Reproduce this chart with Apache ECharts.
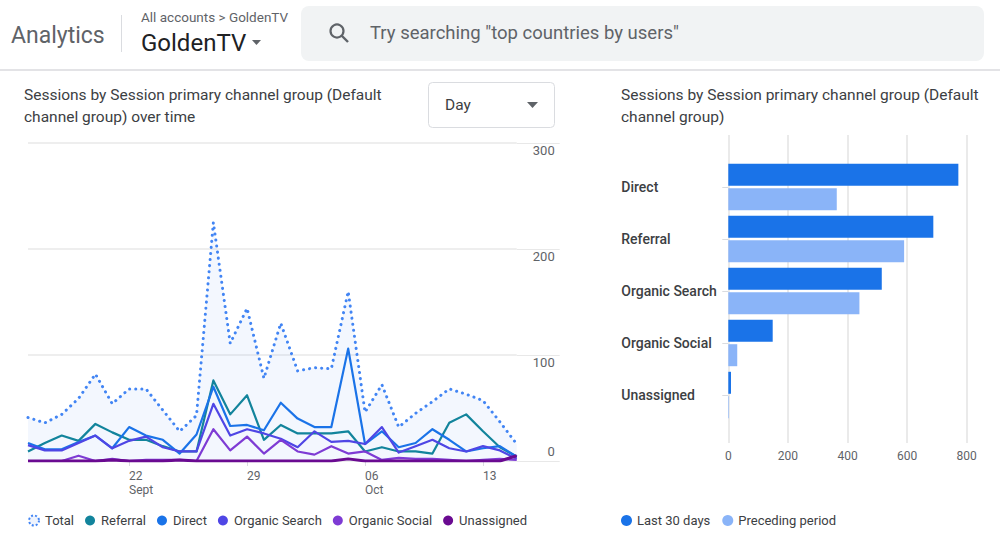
<!DOCTYPE html>
<html>
<head>
<meta charset="utf-8">
<script src="https://cdn.jsdelivr.net/npm/echarts@6/dist/echarts.min.js"></script>
<style>
html,body{margin:0;padding:0;background:#fff;}
#chart{width:1000px;height:550px;}
</style>
</head>
<body>
<div id="chart"></div>
<script>
// ---- Data ----
const days = ['Sep 16','Sep 17','Sep 18','Sep 19','Sep 20','Sep 21','Sep 22','Sep 23','Sep 24','Sep 25',
  'Sep 26','Sep 27','Sep 28','Sep 29','Sep 30','Oct 1','Oct 2','Oct 3','Oct 4','Oct 5',
  'Oct 6','Oct 7','Oct 8','Oct 9','Oct 10','Oct 11','Oct 12','Oct 13','Oct 14','Oct 15'];
const tickLabels = {'Sep 22':'22\nSept','Sep 29':'29','Oct 6':'06\nOct','Oct 13':'13'};
const total      = [41, 36, 44, 59, 82, 54, 68, 68, 48, 28, 43, 225, 111, 144, 78, 130, 85, 88, 87, 160, 46, 72, 32, 45, 56, 68, 63, 57, 37, 16];
const referral   = [9, 17, 24, 19, 35, 27, 20, 20, 14, 9, 9, 76, 44, 62, 20, 34, 26, 26, 26, 28, 9, 13, 9, 9, 7, 36, 44, 28, 13, 4];
const direct     = [17, 11, 11, 18, 24, 12, 32, 24, 20, 7, 25, 70, 33, 34, 29, 55, 40, 32, 32, 106, 16, 28, 13, 17, 30, 20, 9, 12, 14, 4];
const orgSearch  = [15, 10, 10, 17, 24, 12, 19, 23, 13, 9, 9, 54, 24, 30, 26, 21, 13, 28, 18, 19, 16, 32, 8, 14, 20, 12, 9, 14, 10, 2];
const orgSocial  = [0, 0, 0, 5, 0, 2, 0, 1, 1, 1, 0, 30, 10, 23, 7, 20, 9, 6, 14, 7, 9, 1, 3, 2, 2, 1, 0, 1, 2, 1];
const unassigned = [0, 0, 0, 0, 0, 1, 0, 0, 0, 1, 0, 0, 0, 0, 0, 0, 0, 0, 0, 2, 0, 0, 0, 0, 0, 0, 0, 0, 0, 5];

const channels   = ['Direct', 'Referral', 'Organic Search', 'Organic Social', 'Unassigned'];
const last30     = [772, 688, 515, 149, 9];
const preceding  = [364, 590, 440, 30, 2];

// ---- Chart ----
const FONT = 'Roboto, "Noto Sans", Arial, sans-serif';
const GRID = '#e8e8e8';
const LBL = '#5f6368';
const chart = echarts.init(document.getElementById('chart'), null, {renderer: 'svg'});

function lineSeries(name, data, color, extra) {
  return Object.assign({
    name: name, type: 'line', data: data, xAxisIndex: 0, yAxisIndex: 0,
    showSymbol: false, symbol: 'none',
    lineStyle: {color: color, width: 2.2, join: 'round'},
    itemStyle: {color: color},
    emphasis: {disabled: true}
  }, extra || {});
}

const option = {
  animation: false,
  textStyle: {fontFamily: FONT},
  grid: [
    {left: 28, top: 143, width: 488.7, height: 318},
    {left: 728.3, top: 135, width: 238.4, height: 308},
    {left: 728.3, top: 161, width: 238.4, height: 260}
  ],
  xAxis: [
    {
      gridIndex: 0, type: 'category', data: days, boundaryGap: false,
      axisLine: {show: false},
      axisTick: {show: true, length: 5, lineStyle: {color: '#dadce0'},
        interval: function (i, v) { return tickLabels[v] !== undefined; }},
      axisLabel: {
        interval: function (i, v) { return tickLabels[v] !== undefined; },
        formatter: function (v) { return tickLabels[v] || ''; },
        align: 'left', margin: 8, color: LBL, fontSize: 12, lineHeight: 14, fontFamily: FONT
      },
      splitLine: {show: false}
    },
    {
      gridIndex: 1, type: 'value', min: 0, max: 800, interval: 200,
      axisLine: {show: false}, axisTick: {show: false},
      axisLabel: {margin: 7, color: LBL, fontSize: 12, fontFamily: FONT},
      splitLine: {show: true, lineStyle: {color: '#e3e3e3', width: 1.5}}
    },
    {
      gridIndex: 2, type: 'value', min: 0, max: 800, interval: 200, show: false
    }
  ],
  yAxis: [
    {
      gridIndex: 0, type: 'value', position: 'right', min: 0, max: 300, interval: 100,
      axisLine: {show: false},
      axisTick: {show: true, length: 43, lineStyle: {color: GRID}},
      axisLabel: {
        margin: 38, align: 'right', verticalAlign: 'middle', color: LBL, fontSize: 13, fontFamily: FONT,
        formatter: function (v) { return v === 0 ? '{z|0}' : '{n|' + v + '}'; },
        rich: {
          n: {padding: [14, 0, 0, 0], color: LBL, fontSize: 13, fontFamily: FONT},
          z: {padding: [0, 0, 19, 0], color: LBL, fontSize: 13, fontFamily: FONT}
        }
      },
      splitLine: {show: true, lineStyle: {color: GRID, width: 1.5}}
    },
    {gridIndex: 1, type: 'value', show: false},
    {
      gridIndex: 2, type: 'category', data: channels, inverse: true,
      axisLine: {show: false},
      axisTick: {show: true, alignWithLabel: true, length: 6, lineStyle: {color: '#dadce0'}},
      axisLabel: {margin: 107, align: 'left', color: '#3c4043', fontSize: 14, fontWeight: 500, fontFamily: FONT},
      splitLine: {show: false}
    }
  ],
  legend: [
    {
      left: 28, top: 514, itemWidth: 10, itemHeight: 10, itemGap: 11, icon: 'circle',
      selectedMode: false, padding: 0,
      textStyle: {color: '#3c4043', fontSize: 13, fontFamily: FONT, padding: [0, 0, 0, 1]},
      data: [
        {name: 'Total', itemStyle: {color: '#eef3fd', borderColor: '#4285f4', borderWidth: 2, borderType: [2, 2]}},
        'Referral', 'Direct', 'Organic Search', 'Organic Social', 'Unassigned'
      ]
    },
    {
      left: 621, top: 514, itemWidth: 11, itemHeight: 11, itemGap: 12, icon: 'circle',
      selectedMode: false, padding: 0,
      textStyle: {color: '#3c4043', fontSize: 13, fontFamily: FONT},
      data: ['Last 30 days', 'Preceding period']
    }
  ],
  series: [
    lineSeries('Total', total, '#4285f4', {
      lineStyle: {color: '#4285f4', width: 3, type: [0.1, 6], cap: 'round', join: 'round'},
      areaStyle: {color: 'rgba(66,133,244,0.09)'},
      z: 1
    }),
    lineSeries('Referral', referral, '#12849c', {z: 2}),
    lineSeries('Direct', direct, '#1a73e8', {z: 3}),
    lineSeries('Organic Search', orgSearch, '#4f46e5', {z: 4}),
    lineSeries('Organic Social', orgSocial, '#7e3bd4', {z: 5}),
    lineSeries('Unassigned', unassigned, '#6a0a91', {z: 6, lineStyle: {color: '#6a0a91', width: 3}}),
    {
      name: 'Last 30 days', type: 'bar', xAxisIndex: 2, yAxisIndex: 2, data: last30,
      barWidth: 22, barGap: '11%', itemStyle: {color: '#1a73e8'}, emphasis: {disabled: true}
    },
    {
      name: 'Preceding period', type: 'bar', xAxisIndex: 2, yAxisIndex: 2, data: preceding,
      barWidth: 22, barGap: '11%', itemStyle: {color: '#8ab4f8'}, emphasis: {disabled: true}
    }
  ],
  graphic: [
    // header
    {type: 'rect', shape: {x: 0, y: 69, width: 1000, height: 2}, style: {fill: '#e3e3e6'}, silent: true},
    {type: 'text', x: 11, y: 35, style: {text: 'Analytics', fill: '#5f6368', font: '400 23px ' + FONT, textVerticalAlign: 'middle'}},
    {type: 'rect', shape: {x: 121, y: 15, width: 1, height: 37}, style: {fill: '#dadce0'}},
    {type: 'text', x: 141, y: 17, style: {text: 'All accounts > GoldenTV', fill: '#5f6368', font: '400 13.5px ' + FONT, textVerticalAlign: 'middle'}},
    {type: 'text', x: 141, y: 43, style: {text: 'GoldenTV', fill: '#202124', font: '400 24px ' + FONT, textVerticalAlign: 'middle'}},
    {type: 'polygon', shape: {points: [[252, 40], [261, 40], [256.5, 45]]}, style: {fill: '#5f6368'}},
    {type: 'rect', shape: {x: 301, y: 6, width: 683, height: 55, r: 8}, style: {fill: '#f1f3f4'}},
    {type: 'circle', shape: {cx: 337, cy: 31, r: 6.5}, style: {fill: 'none', stroke: '#5f6368', lineWidth: 2.2}},
    {type: 'line', shape: {x1: 341.5, y1: 35.5, x2: 348, y2: 42}, style: {stroke: '#5f6368', lineWidth: 2.4}},
    {type: 'text', x: 370, y: 33, style: {text: 'Try searching "top countries by users"', fill: '#5f6368', font: '400 18.5px ' + FONT, textVerticalAlign: 'middle'}},
    // left card title
    {type: 'text', x: 24, y: 95, style: {text: 'Sessions by Session primary channel group (Default', fill: '#3c4043', font: '400 15.5px ' + FONT, textVerticalAlign: 'middle'}},
    {type: 'text', x: 24, y: 117, style: {text: 'channel group) over time', fill: '#3c4043', font: '400 15.5px ' + FONT, textVerticalAlign: 'middle'}},
    {type: 'rect', shape: {x: 428.5, y: 82.5, width: 126, height: 45, r: 4}, style: {fill: '#fff', stroke: '#dadce0', lineWidth: 1}},
    {type: 'text', x: 445, y: 105, style: {text: 'Day', fill: '#3c4043', font: '400 15.5px ' + FONT, textVerticalAlign: 'middle'}},
    {type: 'polygon', shape: {points: [[527, 102], [538, 102], [532.5, 108]]}, style: {fill: '#5f6368'}},
    // right card title
    {type: 'text', x: 621, y: 95, style: {text: 'Sessions by Session primary channel group (Default', fill: '#3c4043', font: '400 15.5px ' + FONT, textVerticalAlign: 'middle'}},
    {type: 'text', x: 621, y: 117, style: {text: 'channel group)', fill: '#3c4043', font: '400 15.5px ' + FONT, textVerticalAlign: 'middle'}}
  ]
};
chart.setOption(option);
</script>
</body>
</html>
